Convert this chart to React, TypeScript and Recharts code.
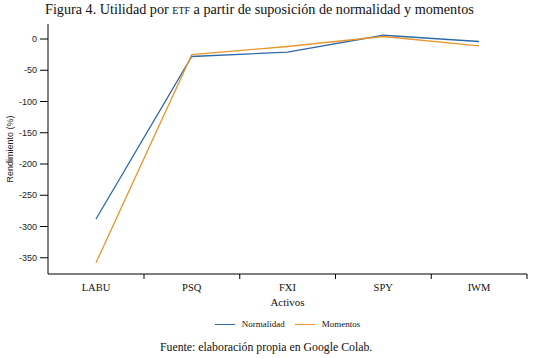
import { LineChart, Line, XAxis, YAxis } from 'recharts';

// activos evaluados
const activos = ['LABU', 'PSQ', 'FXI', 'SPY', 'IWM'];
// rendimiento (%) por supuesto
const normalidad = [-288, -28, -21, 6, -4];
const momentos = [-358, -25, -12, 4, -11];
const yTicks = [0, -50, -100, -150, -200, -250, -300, -350];

const data = activos.map((a, i) => ({
  activo: a,
  normalidad: normalidad[i],
  momentos: momentos[i],
}));

const serif = "'Liberation Serif', serif";
const sans = "'Liberation Sans', sans-serif";
const AZUL = '#2f6aa6';
const NARANJA = '#e8962f';
const HALF_BAND = 48;

// etiqueta de categoría con marca en el límite derecho de cada banda
function CatTick(props: any) {
  const { x, y, payload } = props;
  return (
    <g>
      <line x1={x + HALF_BAND} x2={x + HALF_BAND} y1={y} y2={y + 5} stroke="#000" strokeWidth={1} />
      <text
        x={x}
        y={y + 17}
        textAnchor="middle"
        style={{ fontFamily: serif, fontSize: 10.5 }}
        fill="#111"
      >
        {payload.value}
      </text>
    </g>
  );
}

function LegendItem({ color, label }: { color: string; label: string }) {
  return (
    <span style={{ display: 'inline-flex', alignItems: 'center', margin: '0 5px' }}>
      <span style={{ display: 'inline-block', width: 20, height: 1.3, background: color, marginRight: 7 }} />
      <span style={{ fontFamily: serif }}>{label}</span>
    </span>
  );
}

export default function App() {
  return (
    <div
      style={{
        position: 'absolute',
        left: 0,
        top: 0,
        width: 535,
        height: 358,
        background: '#fff',
        fontFamily: serif,
        color: '#111',
      }}
    >
      <div style={{ position: 'absolute', left: 45, top: 1, fontSize: 14.2, whiteSpace: 'nowrap' }}>
        Figura 4. Utilidad por <span style={{ fontVariant: 'small-caps' }}>etf</span> a partir de
        suposición de normalidad y momentos
      </div>
      <LineChart
        width={535}
        height={310}
        data={data}
        margin={{ top: 24, right: 8, left: 0, bottom: 0 }}
        style={{ position: 'absolute', left: 0, top: 0 }}
      >
        <XAxis
          dataKey="activo"
          height={36}
          padding={{ left: HALF_BAND, right: HALF_BAND }}
          axisLine={{ stroke: '#000', strokeWidth: 1 }}
          tickLine={false}
          tickSize={0}
          tickMargin={0}
          tick={<CatTick />}
          interval={0}
          label={{
            value: 'Activos',
            position: 'insideBottom',
            offset: 4,
            style: { fontFamily: serif, fontSize: 11 },
            fill: '#111',
          }}
        />
        <YAxis
          width={48}
          domain={[-376, 24]}
          ticks={yTicks}
          allowDataOverflow
          axisLine={{ stroke: '#000', strokeWidth: 1 }}
          tickLine={{ stroke: '#000', strokeWidth: 1 }}
          tickSize={8}
          tickMargin={3}
          tick={{ fontFamily: sans, fontSize: 9, fill: '#222' }}
          label={{
            value: 'Rendimiento (%)',
            angle: -90,
            position: 'insideLeft',
            offset: 10,
            style: { textAnchor: 'middle', fontFamily: sans, fontSize: 9 },
            fill: '#222',
          }}
        />
        <Line
          type="linear"
          dataKey="normalidad"
          stroke={AZUL}
          strokeWidth={1.3}
          dot={false}
          isAnimationActive={false}
        />
        <Line
          type="linear"
          dataKey="momentos"
          stroke={NARANJA}
          strokeWidth={1.3}
          dot={false}
          isAnimationActive={false}
        />
      </LineChart>
      <div
        style={{
          position: 'absolute',
          left: 0,
          top: 316,
          width: 575,
          textAlign: 'center',
          fontSize: 9,
          lineHeight: '12px',
        }}
      >
        <LegendItem color={AZUL} label="Normalidad" />
        <LegendItem color={NARANJA} label="Momentos" />
      </div>
      <div
        style={{
          position: 'absolute',
          left: 160,
          top: 340,
          fontSize: 11.8,
          fontFamily: serif,
          whiteSpace: 'nowrap',
        }}
      >
        Fuente: elaboración propia en Google Colab.
      </div>
    </div>
  );
}
